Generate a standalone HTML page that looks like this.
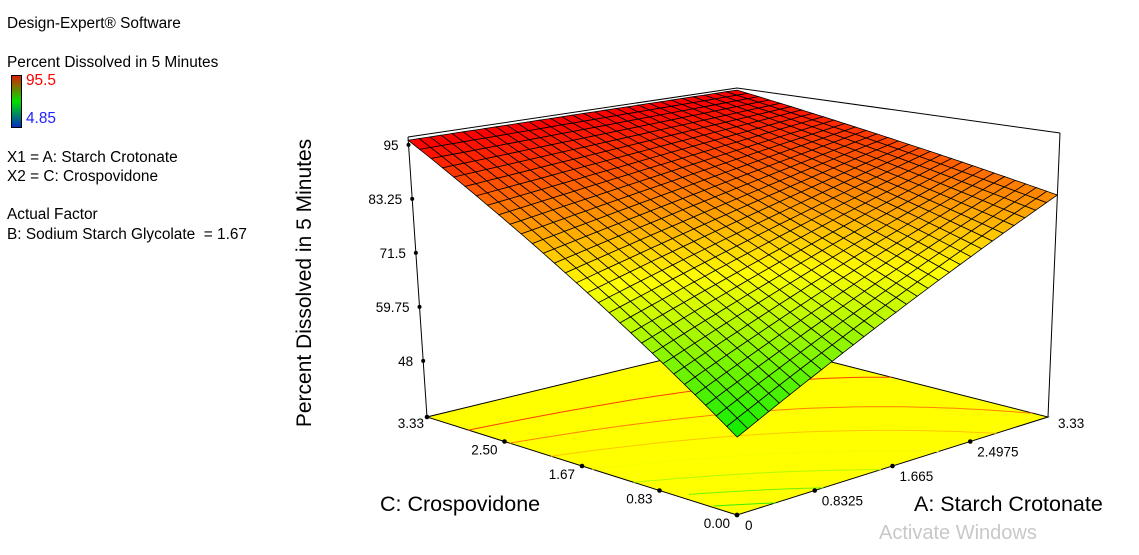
<!DOCTYPE html>
<html><head><meta charset="utf-8">
<style>
body{margin:0;background:#fff;width:1139px;height:555px;overflow:hidden;font-family:"Liberation Sans",Arial,sans-serif;}
.t{position:absolute;font-size:15.4px;color:#000;white-space:nowrap;}
</style></head><body>
<div class="t" style="left:7px;top:15px">Design-Expert® Software</div>
<div class="t" style="left:7px;top:54px">Percent Dissolved in 5 Minutes</div>
<div style="position:absolute;left:11px;top:75px;width:9px;height:51px;border:1px solid #000;background:linear-gradient(#d82000,#00e000 50%,#0030c0)"></div>
<div class="t" style="left:26px;top:72px;color:#f00">95.5</div>
<div class="t" style="left:26px;top:110px;color:#22f">4.85</div>
<div class="t" style="left:7px;top:149px">X1 = A: Starch Crotonate</div>
<div class="t" style="left:7px;top:168px">X2 = C: Crospovidone</div>
<div class="t" style="left:7px;top:206px">Actual Factor</div>
<div class="t" style="left:7px;top:226px">B: Sodium Starch Glycolate&nbsp; = 1.67</div>
<svg id="chart" width="1139" height="555" style="position:absolute;left:0;top:0" xmlns="http://www.w3.org/2000/svg"></svg>
<script>
// data
const zTicks=[95,83.25,71.5,59.75,48];
const aTicks=["0","0.8325","1.665","2.4975","3.33"];
const cTicks=["0.00","0.83","1.67","2.50","3.33"];
const zAtC0=[51,83.4];   // z at C=0 for A=0, A=3.33
const zAtC1=[96,96.2];   // z at C=3.33 for A=0, A=3.33
const contourLevels=[55,60,66,72,78,84,90];
const zMin=35.8, zMax=96.7, cMin=4.85, cMax=95.5, N=30;

const svg=document.getElementById('chart');const NS='http://www.w3.org/2000/svg';
function el(tag,attrs,parent){const e=document.createElementNS(NS,tag);for(const k in attrs)e.setAttribute(k,attrs[k]);(parent||svg).appendChild(e);return e;}
const F={x00:737,y00:515,x01:427,y01:417,x10:1048,y10:417,x11:745,y11:340};
const H=[[312,280],[284,252]], DX=[[1,-19],[12,-8]];
function bl(v00,v01,v10,v11,a,c){return v00*(1-a)*(1-c)+v01*(1-a)*c+v10*a*(1-c)+v11*a*c;}
function P(a,c,z){const fx=bl(F.x00,F.x01,F.x10,F.x11,a,c),fy=bl(F.y00,F.y01,F.y10,F.y11,a,c);
 const h=bl(H[0][0],H[0][1],H[1][0],H[1][1],a,c),dx=bl(DX[0][0],DX[0][1],DX[1][0],DX[1][1],a,c);
 const t=(z-zMin)/(zMax-zMin);return [fx+dx*t,fy-h*t];}
function Z(a,c){return bl(zAtC0[0],zAtC1[0],zAtC0[1],zAtC1[1],a,c);}
function col(z){let t=Math.max(0,Math.min(1,(z-cMin)/(cMax-cMin)));const st=[[0,0,255],[0,255,255],[0,235,0],[255,255,0],[255,0,0]];
 const s=t*4,i=Math.min(3,Math.floor(s)),f=s-i;const c=st[i].map((v,k)=>Math.round(v+(st[i+1][k]-v)*f));return `rgb(${c})`;}
const pt=p=>p[0].toFixed(1)+','+p[1].toFixed(1);
// box top edges and verticals
const topL=P(0,1,zMax),topB=P(1,1,zMax),topR=P(1,0,zMax);
el('polyline',{points:[topL,topB,topR].map(pt).join(' '),fill:'none',stroke:'#000','stroke-width':1,});
el('line',{x1:P(1,0,zMin)[0],y1:P(1,0,zMin)[1],x2:topR[0],y2:topR[1],stroke:'#000',});
// floor
el('polygon',{points:[P(0,0,zMin),P(0,1,zMin),P(1,1,zMin),P(1,0,zMin)].map(pt).join(' '),fill:'#ffff00',stroke:'#000',});
contourLevels.forEach(L=>{const pts=[];for(let i=0;i<=60;i++){const c=i/60;const z0=Z(0,c),z1=Z(1,c);if((L-z0)*(L-z1)>0)continue;const a=(L-z0)/(z1-z0);pts.push(P(a,c,zMin));}
 if(pts.length>1){const p=el('polyline',{points:pts.map(pt).join(' '),fill:'none',stroke:col(L),'stroke-width':1});
 
 }});
// z axis
const zb=P(0,1,zMin),zt=P(0,1,zMax);
el('line',{x1:zb[0],y1:zb[1],x2:zt[0],y2:zt[1],stroke:'#000',});
zTicks.forEach(v=>{const p=P(0,1,v);el('circle',{cx:p[0],cy:p[1],r:2,fill:'#000'});
 const t=el('text',{x:p[0]-10,y:p[1]+5,'font-size':13.5,'text-anchor':'end'});t.textContent=v;
 
 });
// floor axis ticks
cTicks.forEach((s,i)=>{const c=i/4,p=P(0,c,zMin);el('circle',{cx:p[0],cy:p[1],r:2.3,fill:'#000'});
 const t=el('text',{x:p[0]-(i==4?3:7),y:p[1]+(i==4?11:13),'font-size':13.5,'text-anchor':'end'});t.textContent=s;
 
 });
aTicks.forEach((s,i)=>{if(i==4){const p=P(1,0,zMin);const t=el('text',{x:p[0]+10,y:p[1]+11,'font-size':13.5});t.textContent=s;return;}
 const a=i/4,p=P(a,0,zMin);el('circle',{cx:p[0],cy:p[1],r:2.3,fill:'#000'});
 const t=el('text',{x:p[0]+(i==0?8:7),y:p[1]+15,'font-size':13.5});t.textContent=s;
 
 });
// surface
const g=el('g',{stroke:'#000','stroke-width':0.8,});
const cells=[];for(let i=0;i<N;i++)for(let j=0;j<N;j++)cells.push([i,j]);
cells.sort((p,q)=>(q[0]+q[1])-(p[0]+p[1]));
cells.forEach(([i,j])=>{const a0=i/N,a1=(i+1)/N,c0=j/N,c1=(j+1)/N;
 const ps=[[a0,c0],[a1,c0],[a1,c1],[a0,c1]].map(([a,c])=>P(a,c,Z(a,c)));
 el('polygon',{points:ps.map(pt).join(' '),fill:col(Z((a0+a1)/2,(c0+c1)/2))},g);});
// z-axis title
const zt2=el('text',{x:0,y:0,'font-size':21,'text-anchor':'middle',transform:'translate(311,283) rotate(-90)'});
zt2.textContent='Percent Dissolved in 5 Minutes';


</script>
<div class="t" style="left:380px;top:492px;font-size:21.5px">C: Crospovidone</div>
<div class="t" style="left:914px;top:492px;font-size:21.5px">A: Starch Crotonate</div>
<div class="t" style="left:879px;top:522px;font-size:20px;color:#c8c8c8">Activate Windows</div>
</body></html>
